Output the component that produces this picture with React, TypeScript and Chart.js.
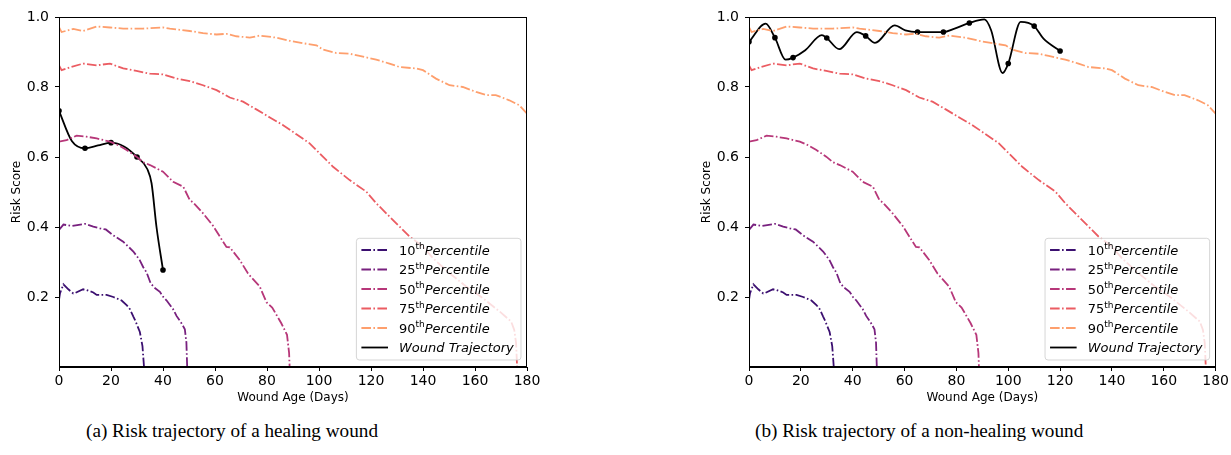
import React, { useEffect, useRef } from 'react';
import { Chart, registerables } from 'chart.js';

Chart.register(...registerables);

// ---------- data ----------
const xTickValues = [0, 20, 40, 60, 80, 100, 120, 140, 160, 180];
const yTickValues = [0.2, 0.4, 0.6, 0.8, 1.0];

const percentileLabels = ['10', '25', '50', '75', '90'];
const percentileColors = ['#3b0f70', '#78217f', '#b73779', '#eb5c62', '#fe9f6d'];

const p10Days = [0, 0.4, 1.7, 3.6, 5.5, 6.1, 9.3, 10.6, 13.2, 14.5, 18.3, 20.9, 22.2, 24.1, 26, 27.3, 28.6, 29.2, 31.1, 32.1, 32.5, 32.7, 180];
const p10Risk = [0.192, 0.211, 0.236, 0.222, 0.21, 0.211, 0.222, 0.22, 0.213, 0.206, 0.206, 0.2, 0.196, 0.19, 0.177, 0.165, 0.144, 0.135, 0.1, 0.06, 0.02, 0, 0];

const p25Days = [0, 1.7, 5, 10, 13.2, 15.8, 18, 20.9, 24.7, 28.6, 31, 32.4, 33.7, 35.2, 36.5, 38.8, 40.1, 41.4, 43.9, 45.2, 47.1, 48.4, 49, 49.3, 180];
const p25Risk = [0.392, 0.407, 0.403, 0.409, 0.401, 0.396, 0.393, 0.376, 0.358, 0.33, 0.306, 0.285, 0.27, 0.24, 0.228, 0.215, 0.2, 0.19, 0.165, 0.146, 0.125, 0.108, 0.07, 0, 0];

const p50Days = [0, 2.9, 6.8, 10.6, 14.5, 19.6, 23, 26, 29.8, 32.4, 35, 40, 43.9, 47.8, 50.3, 51.6, 55.4, 59.3, 63.1, 64.4, 65.7, 69.5, 72.7, 77.2, 79.8, 82, 85.5, 87.7, 88.5, 88.7, 180];
const p50Risk = [0.644, 0.648, 0.661, 0.658, 0.653, 0.644, 0.633, 0.62, 0.601, 0.585, 0.577, 0.558, 0.529, 0.515, 0.477, 0.47, 0.439, 0.403, 0.358, 0.343, 0.342, 0.306, 0.267, 0.23, 0.185, 0.17, 0.125, 0.092, 0.04, 0, 0];

const p75Days = [0, 1, 4.2, 9.3, 14.5, 19.6, 24.7, 29.8, 35, 40, 45.2, 50.3, 55.4, 60.6, 65.7, 70.8, 75.9, 81.1, 86.2, 91.3, 96.4, 100.3, 105.4, 111.8, 118.2, 122, 127.1, 131, 134.8, 140, 143.8, 150.2, 156.6, 163, 169.4, 173.9, 175.1, 175.8, 176.2, 180];
const p75Risk = [0.862, 0.848, 0.856, 0.867, 0.862, 0.867, 0.853, 0.846, 0.838, 0.836, 0.824, 0.817, 0.805, 0.791, 0.77, 0.758, 0.736, 0.713, 0.691, 0.665, 0.639, 0.61, 0.572, 0.534, 0.501, 0.468, 0.43, 0.401, 0.373, 0.344, 0.311, 0.268, 0.23, 0.197, 0.159, 0.13, 0.106, 0.068, 0, 0];

const p90Days = [0, 1, 5.5, 9.3, 14.5, 19.6, 24.7, 32.4, 40, 42.6, 50.3, 55.4, 60.6, 64.4, 68.2, 73.4, 77.2, 83.6, 88.7, 93.9, 99, 101.5, 106.7, 111.8, 115.6, 122, 127.1, 131, 137.4, 140, 145, 150.2, 155.3, 160.4, 164.3, 168, 173.2, 177, 180];
const p90Risk = [0.971, 0.957, 0.966, 0.96, 0.973, 0.97, 0.967, 0.967, 0.97, 0.967, 0.96, 0.954, 0.95, 0.952, 0.945, 0.941, 0.947, 0.941, 0.932, 0.925, 0.919, 0.907, 0.897, 0.895, 0.889, 0.878, 0.867, 0.857, 0.853, 0.848, 0.824, 0.805, 0.8, 0.786, 0.777, 0.777, 0.762, 0.748, 0.724];

// healing wound trajectory (1 = marker drawn)
const healDays = [0, 5, 10, 15, 20, 25, 30, 34, 35.6, 37.5, 40];
const healRisk = [0.732, 0.645, 0.625, 0.633, 0.641, 0.63, 0.6, 0.565, 0.525, 0.4, 0.277];
const healMarked = [1, 0, 1, 0, 1, 0, 1, 0, 0, 0, 1];

// non-healing wound trajectory
const nonHealDays = [0, 6.4, 10, 14.1, 17, 21.7, 28.1, 30, 34.8, 41.6, 45, 48.6, 56.2, 60.3, 65, 75, 79.3, 85, 90.8, 93.4, 97.8, 100, 104.8, 110, 113.6, 120];
const nonHealRisk = [0.929, 0.981, 0.941, 0.878, 0.884, 0.905, 0.948, 0.94, 0.908, 0.957, 0.946, 0.926, 0.976, 0.962, 0.957, 0.957, 0.967, 0.983, 0.993, 0.962, 0.84, 0.867, 0.986, 0.974, 0.938, 0.903];
const nonHealMarked = [1, 0, 1, 0, 1, 0, 0, 1, 0, 0, 1, 0, 0, 0, 1, 1, 0, 1, 0, 0, 0, 1, 0, 1, 0, 1];

const captionA = '(a) Risk trajectory of a healing wound';
const captionB = '(b) Risk trajectory of a non-healing wound';

// ---------- chart ----------
const FONT = '"DejaVu Sans", sans-serif';

type Traj = { days: number[]; risk: number[]; marked: number[] };

const percentileSeries = [
  { days: p10Days, risk: p10Risk },
  { days: p25Days, risk: p25Risk },
  { days: p50Days, risk: p50Risk },
  { days: p75Days, risk: p75Risk },
  { days: p90Days, risk: p90Risk },
];

const DASH = [9.6, 2.4, 1.6, 2.4];
const PCT_WIDTH = 1.8;
const TRAJ_WIDTH = 1.8;

function makeConfig(traj: Traj, rightPad: number): any {
  const datasets: any[] = percentileSeries.map((s, i) => ({
    label: percentileLabels[i] + 'th Percentile',
    data: s.days.map((d, j) => ({ x: d, y: s.risk[j] })),
    borderColor: percentileColors[i],
    borderWidth: PCT_WIDTH,
    borderDash: DASH,
    pointRadius: 0,
    tension: 0,
    fill: false,
  }));
  datasets.push({
    label: 'Wound Trajectory',
    data: traj.days.map((d, j) => ({ x: d, y: traj.risk[j] })),
    borderColor: '#000',
    backgroundColor: '#000',
    borderWidth: TRAJ_WIDTH,
    pointRadius: traj.marked.map((m) => (m ? 2.8 : 0)),
    pointBackgroundColor: '#000',
    pointBorderWidth: 0,
    cubicInterpolationMode: 'monotone',
    fill: false,
  });

  const legendPlugin = {
    id: 'customLegend',
    afterDatasetsDraw(chart: any) {
      const ctx = chart.ctx;
      const a = chart.chartArea;
      const w = 164.6;
      const h = 121.7;
      const x0 = a.right - 6 - w;
      const y0 = a.bottom - 7 - h;
      ctx.save();
      ctx.beginPath();
      if (ctx.roundRect) ctx.roundRect(x0, y0, w, h, 3);
      else ctx.rect(x0, y0, w, h);
      ctx.fillStyle = 'rgba(255,255,255,0.8)';
      ctx.fill();
      ctx.strokeStyle = 'rgba(204,204,204,0.8)';
      ctx.lineWidth = 1;
      ctx.stroke();
      const items = [...percentileLabels, null];
      items.forEach((p, i) => {
        const cy = y0 + 11.7 + i * 19.5;
        ctx.beginPath();
        if (p !== null) {
          ctx.setLineDash(DASH);
          ctx.strokeStyle = percentileColors[i];
          ctx.lineWidth = PCT_WIDTH;
        } else {
          ctx.setLineDash([]);
          ctx.strokeStyle = '#000';
          ctx.lineWidth = TRAJ_WIDTH;
        }
        ctx.moveTo(x0 + 5, cy);
        ctx.lineTo(x0 + 31.6, cy);
        ctx.stroke();
        ctx.setLineDash([]);
        ctx.fillStyle = '#000';
        ctx.textAlign = 'left';
        ctx.textBaseline = 'alphabetic';
        let tx = x0 + 42.6;
        const base = cy + 4.7;
        if (p !== null) {
          ctx.font = '13px ' + FONT;
          ctx.fillText(p, tx, base);
          tx += ctx.measureText(p).width;
          ctx.font = '9px ' + FONT;
          ctx.fillText('th', tx, base - 5.5);
          tx += ctx.measureText('th').width;
          ctx.font = 'italic 13px ' + FONT;
          ctx.fillText('Percentile', tx, base);
        } else {
          ctx.font = 'italic 13px ' + FONT;
          ctx.fillText('Wound Trajectory', tx, base);
        }
      });
      ctx.restore();
    },
    afterDraw(chart: any) {
      const ctx = chart.ctx;
      const a = chart.chartArea;
      ctx.save();
      ctx.strokeStyle = '#000';
      ctx.lineWidth = 1;
      ctx.strokeRect(Math.round(a.left) + 0.5, Math.round(a.top) + 0.5, Math.round(a.right - a.left) - 1, Math.round(a.bottom - a.top) - 1);
      ctx.restore();
    },
  };

  return {
    type: 'line',
    data: { datasets },
    plugins: [legendPlugin],
    options: {
      animation: false,
      responsive: false,
      maintainAspectRatio: false,
      layout: { padding: { top: 17, right: rightPad, left: 0, bottom: 0 } },
      plugins: { legend: { display: false }, tooltip: { enabled: false } },
      scales: {
        x: {
          type: 'linear',
          min: 0,
          max: 180,
          afterBuildTicks: (s: any) => {
            s.ticks = xTickValues.map((v) => ({ value: v }));
          },
          afterFit: (s: any) => {
            s.height = 43;
          },
          ticks: {
            font: { family: FONT, size: 14 },
            color: '#000',
            padding: 2,
            maxRotation: 0,
            autoSkip: false,
            callback: (v: any) => String(v),
          },
          grid: { drawOnChartArea: false, color: '#000', tickLength: 4, lineWidth: 1 },
          border: { display: true, color: '#000', width: 1 },
          title: {
            display: true,
            text: 'Wound Age (Days)',
            color: '#000',
            font: { family: FONT, size: 12 },
            padding: { top: 0, bottom: 4.5 },
          },
        },
        y: {
          type: 'linear',
          min: 0,
          max: 1,
          afterBuildTicks: (s: any) => {
            s.ticks = yTickValues.map((v) => ({ value: v }));
          },
          afterFit: (s: any) => {
            s.width = 59;
          },
          ticks: {
            font: { family: FONT, size: 14 },
            color: '#000',
            padding: 6,
            autoSkip: false,
            callback: (v: any) => Number(v).toFixed(1),
          },
          grid: { drawOnChartArea: false, color: '#000', tickLength: 4, lineWidth: 1 },
          border: { display: true, color: '#000', width: 1 },
          title: {
            display: true,
            text: 'Risk Score',
            color: '#000',
            font: { family: FONT, size: 12 },
            padding: { top: 9.5, bottom: 0 },
          },
        },
      },
    },
  };
}

function Panel(props: { traj: Traj; left: number; width: number; rightPad: number }) {
  const ref = useRef<HTMLCanvasElement>(null);
  useEffect(() => {
    if (!ref.current) return;
    const chart = new Chart(ref.current, makeConfig(props.traj, props.rightPad));
    return () => chart.destroy();
  }, []);
  return (
    <canvas
      ref={ref}
      width={props.width}
      height={410}
      style={{ position: 'absolute', left: props.left, top: 0, width: props.width, height: 410 }}
    />
  );
}

export default function App() {
  useEffect(() => {
    document.body.style.margin = '0';
  }, []);
  const capStyle: React.CSSProperties = {
    position: 'absolute',
    top: 420,
    fontFamily: '"Liberation Serif", "Times New Roman", serif',
    fontSize: 19.2,
    lineHeight: '22px',
    whiteSpace: 'nowrap',
    color: '#000',
  };
  return (
    <div style={{ position: 'relative', width: 1231, height: 455, background: '#fff', overflow: 'hidden' }}>
      <Panel traj={{ days: healDays, risk: healRisk, marked: healMarked }} left={0} width={600} rightPad={73} />
      <Panel traj={{ days: nonHealDays, risk: nonHealRisk, marked: nonHealMarked }} left={690} width={541} rightPad={12} />
      <div style={{ ...capStyle, left: 86 }}>{captionA}</div>
      <div style={{ ...capStyle, left: 755 }}>{captionB}</div>
    </div>
  );
}
